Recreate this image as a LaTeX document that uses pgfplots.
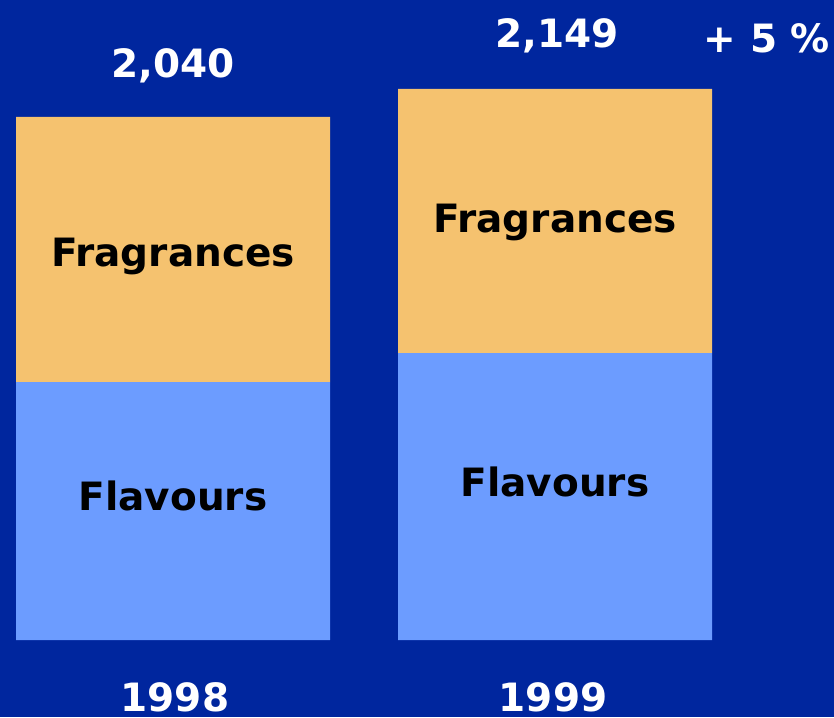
\documentclass[border=0pt]{standalone}
\usepackage{pgfplots}
\pgfplotsset{compat=1.18}
\usepackage{fontspec}
\setmainfont{DejaVu Sans}
\definecolor{bgblue}{HTML}{00269E}
\definecolor{fragc}{HTML}{F5C26F}
\definecolor{flavc}{HTML}{6C9CFF}
\tikzset{
  lab/.style={font=\fontsize{39}{42}\selectfont\bfseries, text=black},
  tot/.style={font=\fontsize{39}{42}\selectfont\bfseries, text=white},
}
\begin{document}
\begin{tikzpicture}
\begin{axis}[
  scale only axis, width=834pt, height=717pt,
  xmin=-0.4529, xmax=1.7304, ymin=-300.3, ymax=2496,
  axis background/.style={fill=bgblue},
  axis line style={draw=none},
  xtick=\empty, ytick=\empty,
  ybar stacked, bar width=0.822,
  clip=false,
]
\addplot[fill=flavc, draw=none] coordinates {(0,1006) (1.0,1119)};
\addplot[fill=fragc, draw=none] coordinates {(0,1034) (1.0,1030)};
\coordinate (fr1) at (axis cs:0,1497);
\coordinate (fr2) at (axis cs:1.0,1630);
\coordinate (fl1) at (axis cs:0,562);
\coordinate (fl2) at (axis cs:1.0,616);
\coordinate (t1) at (axis cs:0,2238);
\coordinate (t2) at (axis cs:1.005,2355);
\coordinate (pc) at (axis cs:1.555,2348);
\coordinate (y1) at (axis cs:0.005,-225);
\coordinate (y2) at (axis cs:0.995,-225);
\end{axis}
\node[lab] at (fr1) {Fragrances};
\node[lab] at (fr2) {Fragrances};
\node[lab] at (fl1) {Flavours};
\node[lab] at (fl2) {Flavours};
\node[tot] at (t1) {2,040};
\node[tot] at (t2) {2,149};
\node[tot] at (pc) {+ 5 \%};
\node[tot] at (y1) {1998};
\node[tot] at (y2) {1999};
\pgfresetboundingbox
\path[use as bounding box] (current axis.south west) rectangle (current axis.north east);
\end{tikzpicture}
\end{document}
